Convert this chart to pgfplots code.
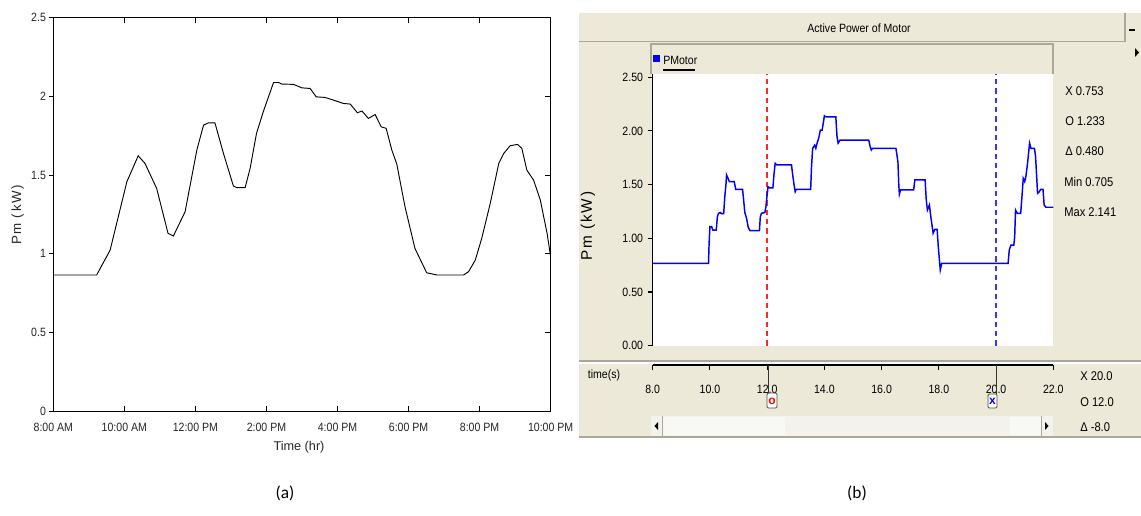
\documentclass[border=0pt]{standalone}
\usepackage{fontspec}
\setmainfont{Liberation Sans}
\newfontfamily\cond[FakeStretch=0.88]{Liberation Sans}
\newfontfamily\calib{Carlito}
\usepackage{pgfplots}
\pgfplotsset{compat=1.18}
\definecolor{xpbg}{HTML}{ECE9D8}
\definecolor{xpline}{HTML}{ACA899}
\definecolor{track}{HTML}{F3F2EC}
\definecolor{thumb}{HTML}{F8F8F5}
\definecolor{cursorred}{rgb}{1,0.15,0.15}
\definecolor{cursorblue}{HTML}{3535FF}
\begin{document}
\begin{tikzpicture}[x=0.75pt,y=-0.75pt]
\useasboundingbox (0,0) rectangle (1141,515);
\fill[white] (0,0) rectangle (1141,515);
\coordinate (Rorigin) at (652.7,345.7);
\coordinate (Torigin) at (652.7,365);
\coordinate (Lorigin) at (53.3,411.5);

% ---------------- right panel GUI frame ----------------
\fill[xpbg] (579,13) rectangle (1141,437);
\draw[xpline, line width=0.9pt] (579,41.7) -- (1125,41.7);
\draw[xpline, line width=0.9pt] (1125,13) -- (1125,41.7);
\draw[black, line width=1pt] (1129,30) -- (1135,30);
\fill[black] (1135,48) -- (1139,52.5) -- (1135,57) -- cycle;
\draw[xpline, line width=0.8pt] (651,74) -- (651,44) -- (1053,44) -- (1053,74);
\fill[white] (652,74) rectangle (1053,345.7);
\draw[xpline, line width=1.2pt] (579,361) -- (1141,361);
\draw[white, line width=0.8pt] (579,363) -- (1141,363);
\draw[xpline, line width=0.8pt] (579,437) -- (1141,437);
% scrollbar
\fill[track] (651,416) rectangle (1053,436);
\fill[thumb] (662,417) rectangle (785,435);
\fill[thumb] (1010,417) rectangle (1041,435);
\draw[xpline, line width=0.5pt] (662,416) -- (662,436);
\draw[xpline, line width=0.5pt] (1041,416) -- (1041,436);
\fill[black] (658,422) -- (654.5,426) -- (658,430) -- cycle;
\fill[black] (1045,422) -- (1048.5,426) -- (1045,430) -- cycle;

\node[font=\cond\fontsize{9}{10}\selectfont] at (859,28) {Active Power of Motor};
\fill[blue] (653,55) rectangle (660,62);
\node[anchor=west, inner sep=0pt, font=\cond\fontsize{9}{10}\selectfont] at (663,60.5) {PMotor};
\draw[black, line width=0.8pt] (663,70) -- (695,70);

\node[anchor=west, inner sep=0pt, font=\cond\fontsize{9.5}{10}\selectfont] at (1065,91) {X 0.753};
\node[anchor=west, inner sep=0pt, font=\cond\fontsize{9.5}{10}\selectfont] at (1065,121) {O 1.233};
\node[anchor=west, inner sep=0pt, font=\cond\fontsize{9.5}{10}\selectfont] at (1065,151.5) {Δ 0.480};
\node[anchor=west, inner sep=0pt, font=\cond\fontsize{9.5}{10}\selectfont] at (1064,182) {Min 0.705};
\node[anchor=west, inner sep=0pt, font=\cond\fontsize{9.5}{10}\selectfont] at (1064,212.5) {Max 2.141};
\node[anchor=west, inner sep=0pt, font=\cond\fontsize{9.5}{10}\selectfont] at (1080,376.5) {X 20.0};
\node[anchor=west, inner sep=0pt, font=\cond\fontsize{9.5}{10}\selectfont] at (1080,402) {O 12.0};
\node[anchor=west, inner sep=0pt, font=\cond\fontsize{9.5}{10}\selectfont] at (1080,427) {Δ -8.0};
\node[font=\cond\fontsize{9}{10}\selectfont] at (604,375.5) {time(s)};
\node[rotate=90, font=\fontsize{11.5}{13}\selectfont\addfontfeature{LetterSpace=12}] at (588,226) {Pm (kW)};

% ---------------- right plot ----------------
\begin{axis}[at={(Rorigin)}, anchor=south west, scale only axis,
  width=300.45pt, height=203.8pt,
  xmin=8, xmax=22, ymin=0, ymax=2.53,
  hide x axis, axis y line*=left,
  axis line style={-, line width=0.9pt, black},
  ytick={0,0.5,1,1.5,2,2.5}, yticklabels={0.00,0.50,1.00,1.50,2.00,2.50},
  tick align=outside, major tick length=3.75pt,
  tick style={black, line width=0.8pt},
  ticklabel style={font=\cond\fontsize{9}{10}\selectfont},
  clip=true]
\addplot[draw=cursorred, line width=1.3pt, dash pattern=on 4pt off 3pt] coordinates {(12,0) (12,2.53)};
\addplot[draw=cursorblue, line width=0.9pt, dash pattern=on 4pt off 3pt] coordinates {(20,0) (20,2.53)};
\addplot[draw=blue, line width=1.1pt] coordinates {
(8,0.767) (9.95,0.767) (9.97,0.95) (10.0,1.108) (10.06,1.108) (10.1,1.077) (10.22,1.077)
(10.26,1.2) (10.3,1.233) (10.36,1.24) (10.4,1.23) (10.48,1.23) (10.52,1.39) (10.56,1.50)
(10.58,1.589) (10.63,1.56) (10.68,1.527) (10.85,1.527) (10.9,1.456) (11.14,1.456)
(11.18,1.35) (11.22,1.24) (11.28,1.186) (11.34,1.1) (11.4,1.071) (11.73,1.071)
(11.76,1.2) (11.8,1.233) (11.92,1.24) (11.96,1.3) (11.98,1.357) (12.03,1.48)
(12.08,1.47) (12.2,1.47) (12.24,1.6) (12.28,1.698) (12.34,1.683) (12.85,1.683)
(12.9,1.574) (12.95,1.48) (12.98,1.434) (13.02,1.456) (13.52,1.456) (13.55,1.667)
(13.59,1.838) (13.66,1.867) (13.7,1.838) (13.76,1.9) (13.8,1.931) (13.86,2.008)
(13.92,2.008) (13.96,2.07) (14.0,2.141) (14.06,2.13) (14.4,2.13) (14.44,1.95)
(14.48,1.886) (14.55,1.915) (15.55,1.915) (15.6,1.853) (15.64,1.822) (15.68,1.838)
(16.5,1.838) (16.57,1.713) (16.6,1.5) (16.62,1.41) (16.66,1.45) (17.12,1.45)
(17.16,1.543) (17.52,1.543) (17.56,1.357) (17.6,1.263) (17.67,1.31) (17.72,1.2)
(17.8,1.047) (17.86,1.083) (17.94,1.083) (17.98,0.922) (18.05,0.705) (18.1,0.767)
(20.42,0.767) (20.46,0.89) (20.52,0.937) (20.62,0.937) (20.65,1.015) (20.68,1.263)
(20.74,1.233) (20.86,1.233) (20.9,1.372) (20.95,1.558) (21.0,1.528) (21.04,1.573)
(21.1,1.698) (21.17,1.885) (21.22,1.838) (21.34,1.838) (21.38,1.76) (21.45,1.419)
(21.5,1.43) (21.56,1.456) (21.64,1.456) (21.68,1.31) (21.74,1.289) (22,1.289)};
\end{axis}

% time axis
\begin{axis}[at={(Torigin)}, anchor=south west, scale only axis,
  width=300.45pt, height=1pt,
  xmin=8, xmax=22, ymin=0, ymax=1,
  axis x line*=bottom, hide y axis,
  axis line style={-, line width=0.9pt, black},
  xtick={8,10,12,14,16,18,20,22},
  xticklabels={8.0,10.0,12.0,14.0,16.0,18.0,20.0,22.0},
  tick align=outside, major tick length=3.75pt,
  tick style={black, line width=0.8pt},
  ticklabel style={font=\cond\fontsize{9}{10}\selectfont},
  xticklabel style={yshift=-7.5pt}]
\end{axis}

% cursor handles
\draw[black!80, line width=1pt] (768.3,365) -- (768.3,394);
\draw[black!70, line width=0.7pt, fill=white, rounded corners=1pt] (767,393) rectangle (777,408);
\node[text=red, font=\bfseries\fontsize{9}{10}\selectfont, inner sep=0pt] at (772,401) {o};
\draw[black!80, line width=1pt] (996.7,365) -- (996.7,394);
\draw[black!70, line width=0.7pt, fill=white, rounded corners=1pt] (988,394) rectangle (997,408);
\node[text=blue, font=\bfseries\fontsize{9}{10}\selectfont, inner sep=0pt] at (992.5,401) {x};

% ---------------- left plot ----------------
\begin{axis}[at={(Lorigin)}, anchor=south west, scale only axis,
  width=373pt, height=295.6pt,
  xmin=8, xmax=22, ymin=0, ymax=2.5,
  xtick={8,10,12,14,16,18,20,22},
  xticklabels={8:00 AM,10:00 AM,12:00 PM,2:00 PM,4:00 PM,6:00 PM,8:00 PM,10:00 PM},
  ytick={0,0.5,1,1.5,2,2.5}, yticklabels={0,0.5,1,1.5,2,2.5},
  tick align=inside, ytick pos=right, yticklabel pos=left,
  xtick pos=both, xticklabel pos=bottom,
  major tick length=4.5pt,
  axis line style={line width=0.7pt, black},
  tick style={line width=0.7pt, black},
  ticklabel style={font=\cond\fontsize{9}{10}\selectfont, text=black!85},
  xticklabel style={yshift=-5.5pt}, yticklabel style={xshift=-2pt}]
\addplot[black, line width=0.7pt] coordinates {
(8,0.866) (9.22,0.866) (9.6,1.024) (10.07,1.457) (10.39,1.622) (10.58,1.574)
(10.91,1.415) (11.23,1.13) (11.38,1.113) (11.71,1.267) (12.04,1.658) (12.23,1.817)
(12.37,1.831) (12.55,1.831) (12.79,1.637) (13.07,1.43) (13.17,1.42) (13.4,1.42)
(13.54,1.542) (13.72,1.764) (13.91,1.901) (14.2,2.087) (14.34,2.087) (14.43,2.077)
(14.76,2.075) (15.0,2.053) (15.23,2.049) (15.4,1.996) (15.65,1.992) (15.89,1.975)
(16.17,1.954) (16.36,1.95) (16.56,1.895) (16.69,1.906) (16.87,1.859) (17.06,1.884)
(17.23,1.806) (17.37,1.796) (17.53,1.658) (17.67,1.569) (17.9,1.299) (18.18,1.035)
(18.51,0.88) (18.8,0.866) (19.55,0.866) (19.69,0.887) (19.88,0.961) (20.06,1.098)
(20.3,1.32) (20.54,1.574) (20.68,1.637) (20.86,1.686) (21.07,1.694) (21.19,1.669)
(21.33,1.531) (21.52,1.468) (21.71,1.341) (21.9,1.13) (22.0,0.982)};
\end{axis}
\begin{axis}[at={(Lorigin)}, anchor=south west, scale only axis,
  width=373pt, height=295.6pt,
  xmin=8, xmax=22, ymin=0, ymax=2.5,
  xtick=\empty, ytick={0,0.5,1,1.5,2,2.5}, yticklabels={},
  ytick pos=left, tick align=outside, major tick length=3.5pt,
  axis line style={draw=none}, tick style={line width=0.7pt, black}]
\end{axis}
\node[rotate=90, text=black!85, font=\fontsize{10}{12}\selectfont\addfontfeature{LetterSpace=12}] at (17.7,215) {Pm (kW)};
\node[text=black!85, font=\fontsize{9.5}{11}\selectfont] at (299,447.5) {Time (hr)};

\node[font=\calib\fontsize{13}{15}\selectfont] at (285,493) {(a)};
\node[font=\calib\fontsize{13}{15}\selectfont] at (857,493) {(b)};
\end{tikzpicture}
\end{document}
